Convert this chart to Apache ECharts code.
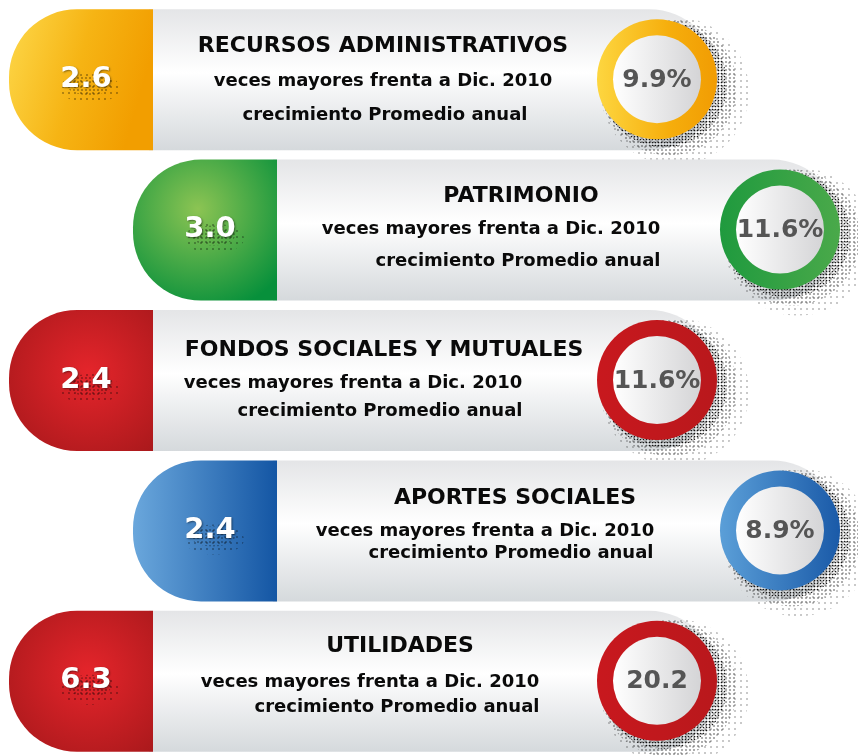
<!DOCTYPE html>
<html><head><meta charset="utf-8">
<script src="https://cdn.jsdelivr.net/npm/echarts@6/dist/echarts.min.js"></script>
<style>html,body{margin:0;padding:0;background:#fff}#c{width:858px;height:756px}</style>
</head><body><div id="c"></div>
<script>
const categories = ['RECURSOS ADMINISTRATIVOS', 'PATRIMONIO', 'FONDOS SOCIALES Y MUTUALES', 'APORTES SOCIALES', 'UTILIDADES'];
const timesValues = [2.6, 3.0, 2.4, 2.4, 6.3];
const growthValues = [9.9, 11.6, 11.6, 8.9, 20.2];
const growthSuffix = ['%', '%', '%', '%', ''];
const line2Text = 'veces mayores frenta a Dic. 2010';
const line3Text = 'crecimiento Promedio anual';

// layout (positions / styles only)
const rowX0 = [9, 133, 9, 133, 9];
const circleX = [657, 780, 657, 780, 657];
const textX = [[383, 383, 385], [521, 491, 518], [384, 353, 380], [515, 485, 511], [400, 370, 397]];
const textDy = [[-33, 2, 36], [-33, 0, 32], [-30, 3, 31], [-32, 1, 23], [-35, 2, 27]];
const themes = [
  {left: {type:'linear',x:0,y:0,x2:1,y2:0.3,colorStops:[{offset:0,color:'#fdd84a'},{offset:0.55,color:'#f6b414'},{offset:1,color:'#f29e00'}]},
   ring: {type:'linear',x:0,y:0,x2:1,y2:0,colorStops:[{offset:0,color:'#fdd640'},{offset:0.6,color:'#f6ae0c'},{offset:1,color:'#f19c03'}]}},
  {left: {type:'radial',x:0.45,y:0.35,r:0.75,colorStops:[{offset:0,color:'#8cc453'},{offset:1,color:'#07903b'}]},
   ring: {type:'linear',x:0,y:0,x2:1,y2:0,colorStops:[{offset:0,color:'#1f9a3e'},{offset:1,color:'#4aa94a'}]}},
  {left: {type:'radial',x:0.55,y:0.45,r:0.7,colorStops:[{offset:0,color:'#e5252b'},{offset:1,color:'#ab191c'}]},
   ring: {type:'linear',x:0,y:0,x2:1,y2:0,colorStops:[{offset:0,color:'#c8181e'},{offset:1,color:'#b9181c'}]}},
  {left: {type:'linear',x:0,y:0,x2:1,y2:0,colorStops:[{offset:0,color:'#6aa7dc'},{offset:1,color:'#1456a4'}]},
   ring: {type:'linear',x:0,y:0,x2:1,y2:0,colorStops:[{offset:0,color:'#5b9fd8'},{offset:1,color:'#1a5aa8'}]}},
  {left: {type:'radial',x:0.55,y:0.45,r:0.7,colorStops:[{offset:0,color:'#e5252b'},{offset:1,color:'#ab191c'}]},
   ring: {type:'linear',x:0,y:0,x2:1,y2:0,colorStops:[{offset:0,color:'#c8181e'},{offset:1,color:'#b9181c'}]}}
];

function dotCanvas(step, rad, alpha) {
  const c = document.createElement('canvas');
  c.width = step; c.height = step;
  const g = c.getContext('2d');
  g.fillStyle = 'rgba(0,0,0,' + alpha + ')';
  g.beginPath(); g.arc(step/2, step/2, rad, 0, Math.PI*2); g.fill();
  return c;
}
const sparse = dotCanvas(6, 0.8, 0.8);
const medium = dotCanvas(4, 0.8, 0.9);
const dense = dotCanvas(3, 0.85, 1);

const grayFill = {type:'linear',x:0,y:0,x2:0,y2:1,colorStops:[
  {offset:0,color:'#e4e5e7'},{offset:0.45,color:'#ffffff'},{offset:0.6,color:'#f3f4f5'},{offset:1,color:'#d5d9dc'}]};
const innerFill = {type:'linear',x:0,y:0,x2:1,y2:0,colorStops:[{offset:0,color:'#ffffff'},{offset:1,color:'#d4d4d6'}]};
const FONT = '"DejaVu Sans", sans-serif';

const data = categories.map((c, i) => [i, timesValues[i], growthValues[i]]);

function renderItem(params, api) {
  const i = api.value(0);
  const cy = api.coord([0, i])[1];
  const x0 = rowX0[i], split = x0 + 144, cx = circleX[i];
  const th = themes[i];
  const h = 141, top = cy - 70;
  const kids = [];
  kids.push({type:'rect', shape:{x:split-4, y:top, width:cx+62-split+4, height:h, r:[0,70,70,0]}, style:{fill:grayFill}});
  kids.push({type:'rect', shape:{x:x0, y:top, width:split-x0, height:h, r:[68,0,0,68]}, style:{fill:th.left}});
  // number halftone
  const nx = x0 + 77;
  kids.push({type:'ellipse', shape:{cx:nx+4, cy:cy+9, rx:30, ry:15}, style:{fill:{image:sparse, repeat:'repeat'}, opacity:0.8}});
  kids.push({type:'ellipse', shape:{cx:nx+3, cy:cy+6, rx:22, ry:10}, style:{fill:{image:medium, repeat:'repeat'}, opacity:0.7}});
  kids.push({type:'text', x:nx, y:cy, style:{text:api.value(1).toFixed(1), fill:'#fff', font:'bold 29px ' + FONT, align:'center', verticalAlign:'middle',
    textShadowColor:'rgba(0,0,0,0.45)', textShadowBlur:2, textShadowOffsetX:1, textShadowOffsetY:1}});
  // texts
  const dy = textDy[i], tx = textX[i];
  kids.push({type:'text', x:tx[0], y:cy+dy[0], style:{text:categories[i], fill:'#0a0a0a', font:'bold 22px ' + FONT, align:'center', verticalAlign:'middle'}});
  kids.push({type:'text', x:tx[1], y:cy+dy[1], style:{text:line2Text, fill:'#0a0a0a', font:'bold 18px ' + FONT, align:'center', verticalAlign:'middle'}});
  kids.push({type:'text', x:tx[2], y:cy+dy[2], style:{text:line3Text, fill:'#0a0a0a', font:'bold 18px ' + FONT, align:'center', verticalAlign:'middle'}});
  // circle halftone shadow
  kids.push({type:'circle', shape:{cx:cx+18, cy:cy+12, r:74}, style:{fill:{image:sparse, repeat:'repeat'}, opacity:0.6}});
  kids.push({type:'circle', shape:{cx:cx+12, cy:cy+8, r:68}, style:{fill:{image:medium, repeat:'repeat'}, opacity:0.8}});
  kids.push({type:'circle', shape:{cx:cx+7, cy:cy+5, r:63}, style:{fill:{image:dense, repeat:'repeat'}, opacity:0.9}});
  kids.push({type:'circle', shape:{cx:cx, cy:cy, r:60}, style:{fill:th.ring}});
  kids.push({type:'circle', shape:{cx:cx, cy:cy, r:44}, style:{fill:innerFill}});
  kids.push({type:'text', x:cx, y:cy+1, style:{text:api.value(2).toFixed(1) + growthSuffix[i], fill:'#555', font:'bold 25px ' + FONT, align:'center', verticalAlign:'middle'}});
  return {type:'group', children:kids};
}

const chart = echarts.init(document.getElementById('c'), null, {renderer:'canvas'});
chart.setOption({
  animation: false,
  grid: {left:0, right:0, top:4, height:755},
  xAxis: {type:'value', min:0, max:858, show:false},
  yAxis: {type:'category', data:categories, inverse:true, show:false},
  series: [{type:'custom', renderItem: renderItem, data: data, clip:false}]
});
</script></body></html>
